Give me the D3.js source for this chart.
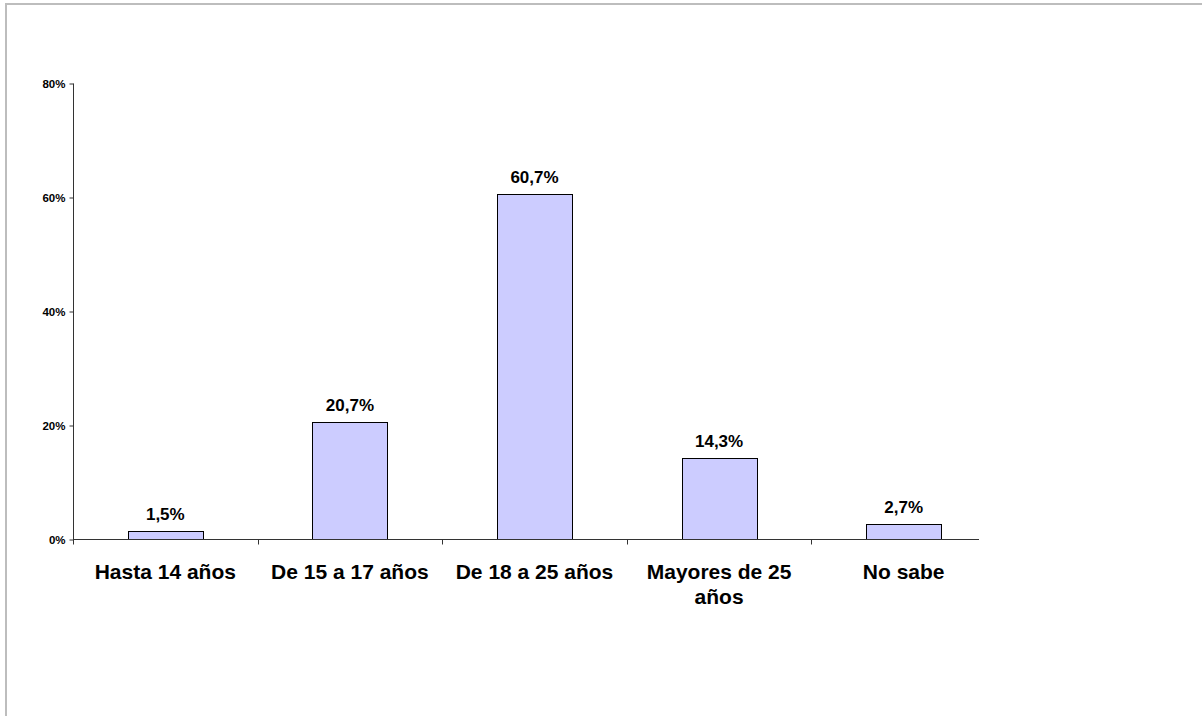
<!DOCTYPE html>
<html>
<head>
<meta charset="utf-8">
<script src="https://cdn.jsdelivr.net/npm/d3@7"></script>
<style>
  body { margin: 0; background: #fff; }
  svg { display: block; font-family: Arial, "Liberation Sans", sans-serif; }
</style>
</head>
<body>
<script>
var width = 1202, height = 716;

const categories = ["Hasta 14 años", "De 15 a 17 años", "De 18 a 25 años", "Mayores de 25|años", "No sabe"];
const values = [1.5, 20.7, 60.7, 14.3, 2.7];
const yTicks = [0, 20, 40, 60, 80];

let svg = d3.select('body').append("svg").attr("width", width).attr("height", height);

// page frame
svg.append("line").attr("x1", 5).attr("x2", width).attr("y1", 4).attr("y2", 4)
    .attr("stroke", "#bdbdbd").attr("stroke-width", 2);
svg.append("line").attr("x1", 6).attr("x2", 6).attr("y1", 3).attr("y2", height)
    .attr("stroke", "#bdbdbd").attr("stroke-width", 2);

const x = d3.scaleBand().domain(categories).range([73, 996]).paddingInner(0).paddingOuter(0);
const y = d3.scaleLinear().domain([0, 80]).range([539.5, 83.5]);

// y axis
let gY = svg.append("g").attr("transform", "translate(73.5,0)")
    .call(d3.axisLeft(y).tickValues(yTicks).tickSize(4).tickPadding(4).tickFormat(d => d + "%"));
gY.select(".domain").remove();
gY.selectAll(".tick line").attr("stroke", "#333");
gY.selectAll(".tick text").attr("font-size", 11.5).attr("font-weight", "bold").attr("fill", "#000");
svg.append("line").attr("x1", 73.5).attr("x2", 73.5).attr("y1", y(80)).attr("y2", y(0) + 5)
    .attr("stroke", "#333");

// bars
const barW = 75;
svg.selectAll(".bar").data(values).enter().append("rect")
    .attr("class", "bar")
    .attr("x", (d, i) => Math.round(x(categories[i]) + x.bandwidth() / 2 - barW / 2) + 0.5)
    .attr("y", d => Math.round(y(d)) + 0.5)
    .attr("width", barW)
    .attr("height", d => y(0) - Math.round(y(d)) - 0.5)
    .attr("fill", "#ccccff")
    .attr("stroke", "#000")
    .attr("stroke-width", 1);

// x axis line and ticks between categories
svg.append("line").attr("x1", 73).attr("x2", 979).attr("y1", y(0)).attr("y2", y(0))
    .attr("stroke", "#333");
svg.selectAll(".xtick").data(categories.slice(1)).enter().append("line")
    .attr("x1", d => Math.round(x(d)) + 0.5).attr("x2", d => Math.round(x(d)) + 0.5)
    .attr("y1", y(0)).attr("y2", y(0) + 5)
    .attr("stroke", "#333");

// value labels
svg.selectAll(".val").data(values).enter().append("text")
    .attr("x", (d, i) => x(categories[i]) + x.bandwidth() / 2)
    .attr("y", d => y(d) - 11)
    .attr("text-anchor", "middle")
    .attr("font-size", 17).attr("font-weight", "bold").attr("fill", "#000")
    .text(d => d.toFixed(1).replace(".", ",") + "%");

// category labels
let gCat = svg.selectAll(".cat").data(categories).enter().append("text")
    .attr("x", d => x(d) + x.bandwidth() / 2)
    .attr("y", 579)
    .attr("text-anchor", "middle")
    .attr("font-size", 21).attr("font-weight", "bold").attr("fill", "#000");
gCat.each(function (d) {
    let parts = d.split("|");
    let t = d3.select(this);
    parts.forEach((p, i) => {
        t.append("tspan").attr("x", x(d) + x.bandwidth() / 2).attr("dy", i === 0 ? 0 : 25).text(p);
    });
});
</script>
</body>
</html>
